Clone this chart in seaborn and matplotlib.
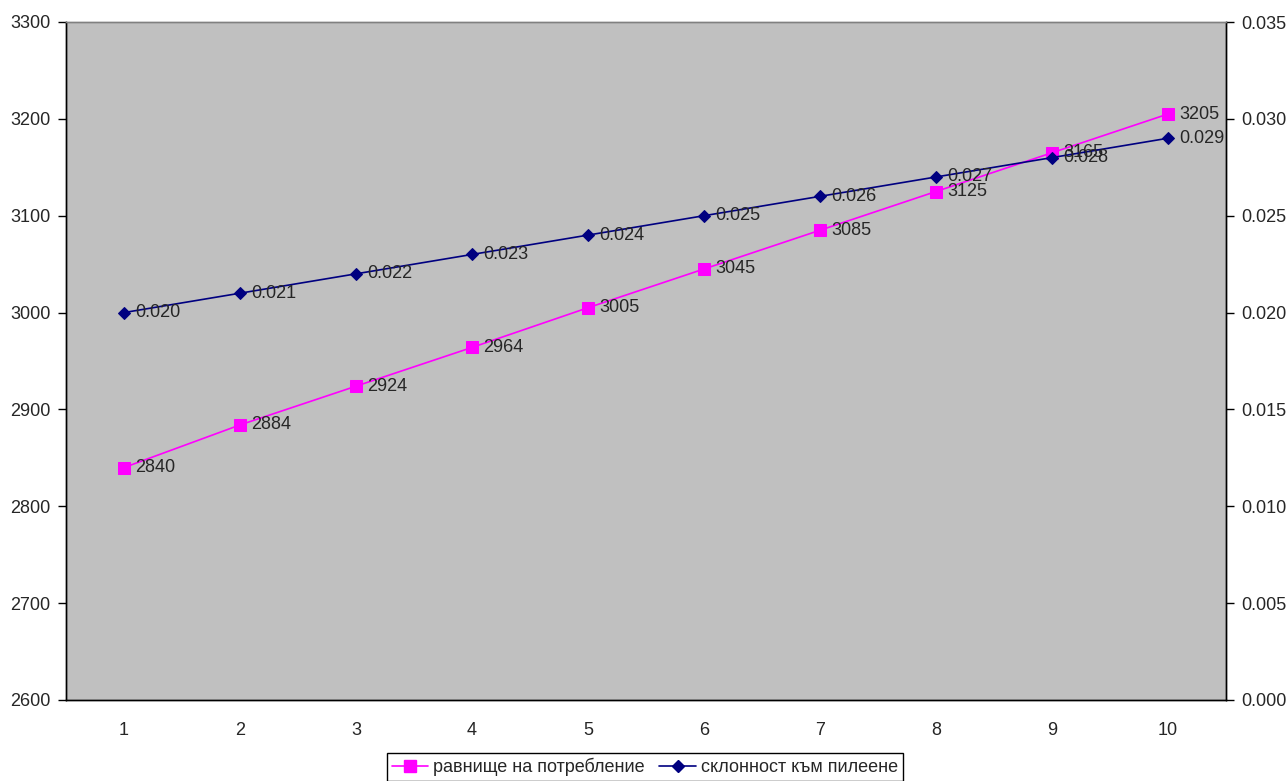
import matplotlib
matplotlib.use("Agg")
import matplotlib.pyplot as plt
import seaborn as sns
import pandas as pd
from matplotlib.lines import Line2D

categories = [1, 2, 3, 4, 5, 6, 7, 8, 9, 10]
consumption = [2840, 2884, 2924, 2964, 3005, 3045, 3085, 3125, 3165, 3205]
saving = [0.020, 0.021, 0.022, 0.023, 0.024, 0.025, 0.026, 0.027, 0.028, 0.029]
label_cons = "равнище на потребление"
label_save = "склонност към пилеене"
left_ticks = [2600, 2700, 2800, 2900, 3000, 3100, 3200, 3300]
right_ticks = [0.000, 0.005, 0.010, 0.015, 0.020, 0.025, 0.030, 0.035]

FS = 13

sns.set_style("white")
plt.rcParams['font.family'] = ['Liberation Sans', 'DejaVu Sans']
plt.rcParams['font.size'] = FS

df = pd.DataFrame({"cat": categories, "cons": consumption, "save": saving})

fig = plt.figure(figsize=(12.88, 7.81), dpi=100)
ax = fig.add_axes([66/1288, 81/781, 1160/1288, 678/781])
ax.set_facecolor("#C0C0C0")

pink = "#FF00FF"
navy = "#000080"

sns.lineplot(data=df, x="cat", y="cons", ax=ax, color=pink, marker="s",
             markersize=8, markeredgecolor=pink, linewidth=1.2, zorder=3)
ax2 = ax.twinx()
sns.lineplot(data=df, x="cat", y="save", ax=ax2, color=navy, marker="D",
             markersize=6, markeredgecolor=navy, linewidth=1.2, zorder=3)

ax.set_xlim(0.5, 10.5)
ax.set_ylim(2600, 3300)
ax2.set_ylim(0, 0.035)
ax.set_yticks(left_ticks)
ax.set_yticklabels([str(t) for t in left_ticks])
ax2.set_yticks(right_ticks)
ax2.set_yticklabels([f"{t:.3f}" for t in right_ticks])

ax.set_xticks([c - 0.5 for c in categories] + [categories[-1] + 0.5])
ax.set_xticklabels([])
ax.set_xticks(categories, minor=True)
ax.set_xticklabels([str(c) for c in categories], minor=True)
ax.tick_params(axis="x", which="major", direction="inout", length=12, width=1, color="black")
ax.tick_params(axis="x", which="minor", length=0, pad=16, labelsize=FS)
ax.tick_params(axis="y", direction="out", length=6, width=1, color="black", pad=5, labelsize=FS)
ax2.tick_params(axis="y", direction="out", length=6, width=1, color="black", pad=5, labelsize=FS)

ax.set_xlabel("")
ax.set_ylabel("")
ax2.set_ylabel("")

for a in (ax, ax2):
    for s in ("left", "right", "bottom"):
        a.spines[s].set_color("black")
        a.spines[s].set_linewidth(1)
        a.spines[s].set_visible(True)
    a.spines["top"].set_color("#808080")
    a.spines["top"].set_linewidth(1)
    a.spines["top"].set_visible(True)

for c, v in zip(categories, consumption):
    ax.annotate(str(v), (c, v), xytext=(11, 0), textcoords="offset pixels",
                va="center", ha="left", fontsize=FS, zorder=5)
for c, v in zip(categories, saving):
    ax2.annotate(f"{v:.3f}", (c, v), xytext=(11, 0), textcoords="offset pixels",
                 va="center", ha="left", fontsize=FS, zorder=5)

handles = [
    Line2D([], [], color=pink, marker="s", markersize=8, markeredgecolor=pink, linewidth=1.2),
    Line2D([], [], color=navy, marker="D", markersize=6, markeredgecolor=navy, linewidth=1.2),
]
leg = fig.legend(handles, [label_cons, label_save], loc="center",
                 bbox_to_anchor=(645/1288, 1 - 767/781), ncol=2, frameon=True,
                 fancybox=False, edgecolor="black", framealpha=1, fontsize=FS,
                 handlelength=2.0, handletextpad=0.3, columnspacing=0.8,
                 borderpad=0.25, borderaxespad=0)
leg.get_frame().set_linewidth(1)

fig.savefig("out.png", dpi=100, facecolor="white")
